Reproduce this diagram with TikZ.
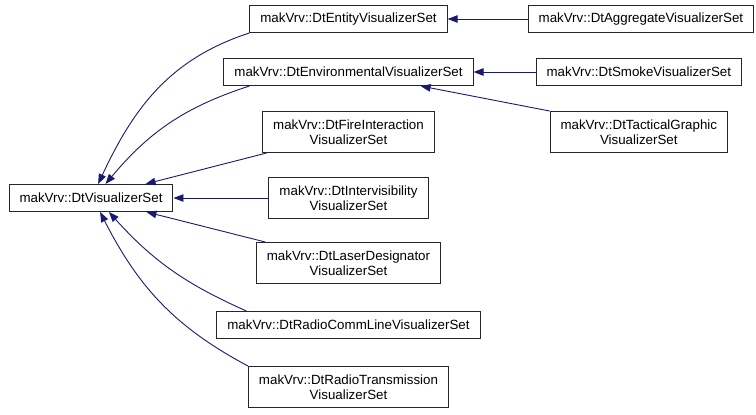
\documentclass[tikz,border=0pt]{standalone}
\usepackage{fontspec}
\setmainfont{Liberation Sans}
\usepackage{xcolor}
\usetikzlibrary{arrows.meta, positioning}

\definecolor{edgeblue}{RGB}{25,25,112}

\begin{document}
\begin{tikzpicture}[
    x=1pt, y=-1pt,
    node distance=25pt,
    box/.style={
        rectangle,
        draw=black!85,
        line width=1pt,
        align=center,
        inner xsep=10.5pt,
        inner ysep=2pt,
        minimum height=27pt,
        font=\fontsize{13.33}{15}\selectfont
    },
    twoline/.style={minimum height=41pt},
    arrow/.style={-{Triangle[length=10pt, width=7.5pt]}, edgeblue, line width=0.9pt}
]
\useasboundingbox (0,0) rectangle (756,415);

\node[box] (entity) at (348.5,19) {makVrv::DtEntityVisualizerSet};

\node[box, below=of entity] (environ) {makVrv::DtEnvironmentalVisualizerSet};

\node[box, twoline, below=of environ] (fire) {makVrv::DtFireInteraction\\VisualizerSet};

\node[box, twoline, below=24pt of fire] (intervis) {makVrv::DtIntervisibility\\VisualizerSet};

\node[box, twoline, below=23pt of intervis] (laser) {makVrv::DtLaserDesignator\\VisualizerSet};

\node[box, below=27pt of laser] (radiocomm) {makVrv::DtRadioCommLineVisualizerSet};

\node[box, twoline, below=27pt of radiocomm] (radiotrans) {makVrv::DtRadioTransmission\\VisualizerSet};

\node[box, left=95pt of intervis] (base) {makVrv::DtVisualizerSet};

\node[box, right=80pt of entity] (aggregate) {makVrv::DtAggregateVisualizerSet};

\node[box, right=62pt of environ] (smoke) {makVrv::DtSmokeVisualizerSet};

\node[box, twoline, below=of smoke] (tactical) {makVrv::DtTacticalGraphic\\VisualizerSet};

% derived classes point to their base
\draw[arrow] (entity.south west) to[out=198, in=65] (base.63);
\draw[arrow] ([xshift=26pt]environ.south west) to[out=198, in=50] (base.44);
\draw[arrow] (fire) -- (base);
\draw[arrow] (intervis) -- (base);
\draw[arrow] (laser) -- (base);
\draw[arrow] ([xshift=30pt]radiocomm.north west) to[out=156, in=312] (base.-38);
\draw[arrow] (radiotrans.north west) to[out=152, in=297] (base.-57);

\draw[arrow] (aggregate) -- (entity);
\draw[arrow] (smoke) -- (environ);
\draw[arrow] (tactical.north west) -- ([xshift=-53pt]environ.south east);

\end{tikzpicture}
\end{document}
